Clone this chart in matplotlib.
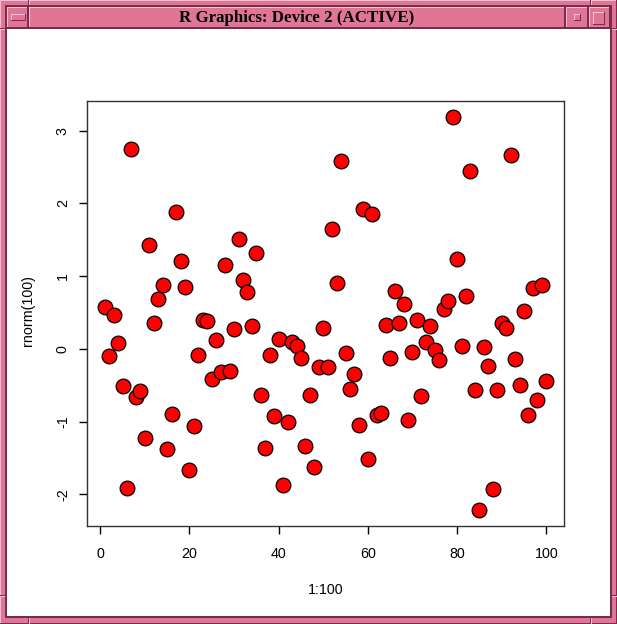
import matplotlib
matplotlib.use("Agg")
import matplotlib.pyplot as plt
from matplotlib.patches import Rectangle

# ---------------- data ----------------
x_index = list(range(1, 101))
y_values = [
    0.58, -0.10, 0.46, 0.08, -0.51, -1.91, 2.75, -0.66, -0.58, -1.22,
    1.43, 0.36, 0.69, 0.87, -1.38, -0.89, 1.88, 1.21, 0.85, -1.66,
    -1.06, -0.08, 0.39, 0.38, -0.42, 0.12, -0.32, 1.15, -0.31, 0.27,
    1.51, 0.94, 0.78, 0.31, 1.31, -0.64, -1.37, -0.09, -0.92, 0.13,
    -1.87, -1.01, 0.09, 0.04, -0.13, -1.34, -0.64, -1.62, -0.25, 0.28,
    -0.25, 1.64, 0.91, 2.58, -0.06, -0.55, -0.34, -1.05, 1.92, -1.52,
    1.85, -0.91, -0.88, 0.33, -0.13, 0.79, 0.36, 0.61, -0.98, -0.05,
    0.39, -0.65, 0.09, 0.31, -0.01, -0.15, 0.54, 0.65, 3.19, 1.24,
    0.04, 0.73, 2.44, -0.56, -2.22, 0.02, -0.23, -1.93, -0.56, 0.36,
    0.29, 2.66, -0.14, -0.50, 0.52, -0.91, 0.83, -0.70, 0.87, -0.44,
]
x_ticks = [0, 20, 40, 60, 80, 100]
y_ticks = [-2, -1, 0, 1, 2, 3]
window_title = "R Graphics: Device 2 (ACTIVE)"
x_label = "1:100"
y_label = "rnorm(100)"

W, H = 617, 624
PINK = "#e07595"
LIGHT = "#f7c3d3"
DARK = "#7a2c4c"

fig = plt.figure(figsize=(W / 100, H / 100), dpi=100)
fig.patch.set_facecolor("white")

# ---------------- window frame ----------------
bg = fig.add_axes([0, 0, 1, 1])
bg.set_xlim(0, W)
bg.set_ylim(H, 0)
bg.axis("off")


def r(x0, y0, x1, y1, c):
    bg.add_patch(Rectangle((x0, y0), x1 - x0, y1 - y0, facecolor=c,
                           edgecolor="none", linewidth=0))


def bevel(x0, y0, x1, y1):
    r(x0, y0, x1, y1, DARK)
    r(x0, y0, x1 - 1, y1 - 1, LIGHT)
    r(x0 + 1, y0 + 1, x1 - 1, y1 - 1, PINK)


r(0, 0, W, H, PINK)
r(0, 0, W, 1, LIGHT)
r(0, 0, 1, H, LIGHT)
r(W - 1, 0, W, H, DARK)
r(0, H - 1, W, H, DARK)
# corner notches
for xx in (28, 590):
    r(xx, 0, xx + 1, 6, DARK)
    r(xx + 1, 0, xx + 2, 6, LIGHT)
    r(xx, 617, xx + 1, H, DARK)
    r(xx + 1, 617, xx + 2, H, LIGHT)
for yy in (28, 595):
    r(0, yy, 6, yy + 1, DARK)
    r(0, yy + 1, 6, yy + 2, LIGHT)
    r(611, yy, W, yy + 1, DARK)
    r(611, yy + 1, W, yy + 2, LIGHT)

# inner outline and content
r(5, 5, 612, 618, DARK)
r(6, 6, 611, 617, LIGHT)
r(6, 6, 611, 29, DARK)
# title bar pieces
bevel(7, 7, 28, 28)
bevel(29, 7, 565, 28)
bevel(566, 7, 588, 28)
bevel(589, 7, 610, 28)
# button glyphs
bevel(11, 14, 26, 21)
bevel(574, 14, 581, 21)
bevel(593, 12, 605, 25)
# content area
r(6, 28, 611, 617, DARK)
r(7, 29, 610, 616, "white")

bg.text(297, 17.5, window_title, ha="center", va="center",
        fontsize=12.2, fontweight="bold", family="Liberation Serif",
        color="black")

# ---------------- plot ----------------
left, right, top, bottom = 87, 564, 101, 526
ax = fig.add_axes([left / W, 1 - bottom / H, (right - left) / W,
                   (bottom - top) / H])
ax.scatter(x_index, y_values, s=112, c="#ff0000", edgecolors="black",
           linewidths=0.9, zorder=3)
ax.set_xlim(-2.96, 103.96)
ax.set_ylim(-2.436, 3.406)
ax.set_xticks(x_ticks)
ax.set_yticks(y_ticks)
ax.set_xticklabels([str(v) for v in x_ticks])
ax.set_yticklabels([str(v) for v in y_ticks], rotation=90, va="center")
for sp in ax.spines.values():
    sp.set_color("#333333")
    sp.set_linewidth(1.0)
ax.tick_params(axis="both", direction="out", length=5.8, width=1.0,
               color="black", labelsize=10.3)
ax.tick_params(axis="x", pad=9)
ax.tick_params(axis="y", pad=6.5)
for lab in ax.get_xticklabels() + ax.get_yticklabels():
    lab.set_family("Liberation Sans")

ax.set_xlabel(x_label, fontsize=10.3, family="Liberation Sans", va="center")
ax.xaxis.set_label_coords(0.5, (bottom - 590) / (bottom - top))
ax.set_ylabel(y_label, fontsize=10.3, family="Liberation Sans", va="center")
ax.yaxis.set_label_coords((28 - left) / (right - left), 0.5 + (313.5 - 311) / (bottom - top))

fig.savefig("out.png", dpi=100, facecolor="white")
